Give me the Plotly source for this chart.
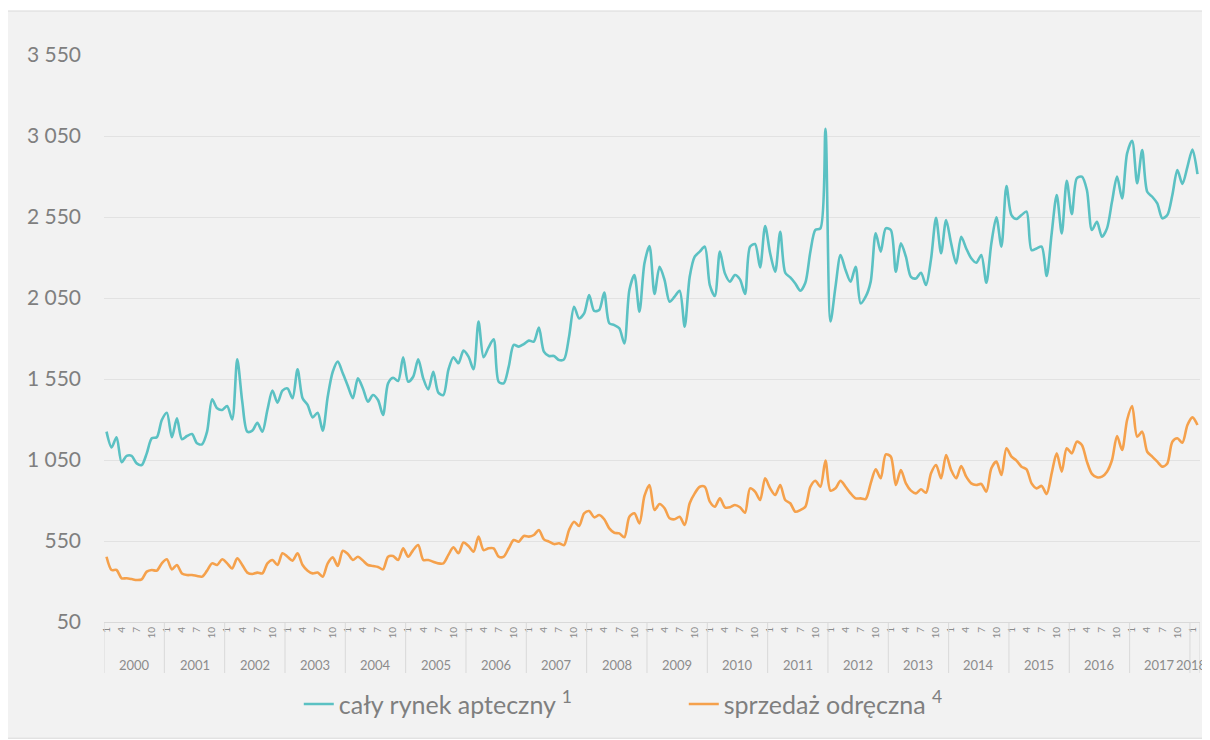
import plotly.graph_objects as go

# ---------------- data ----------------
years = list(range(2000, 2019))
months_in_year = [12] * 18 + [2]

caly_rynek = [
    1225, 1128, 1190, 1036, 1075, 1075, 1029, 1019, 1091, 1184, 1190, 1297,
    1342, 1190, 1307, 1178, 1198, 1210, 1153, 1147, 1225, 1424, 1369, 1359,
    1383, 1301, 1671, 1410, 1225, 1231, 1280, 1225, 1359, 1478, 1404, 1478,
    1492, 1431, 1610, 1431, 1390, 1313, 1342, 1231, 1441, 1595, 1657, 1585,
    1507, 1431, 1554, 1492, 1410, 1451, 1420, 1328, 1523, 1558, 1538, 1684,
    1533, 1564, 1671, 1554, 1486, 1595, 1466, 1451, 1606, 1684, 1647, 1725,
    1688, 1610, 1904, 1684, 1745, 1795, 1533, 1523, 1626, 1760, 1750, 1766,
    1787, 1781, 1867, 1719, 1692, 1692, 1667, 1671, 1811, 1996, 1924, 1955,
    2068, 1970, 1976, 2083, 1894, 1883, 1863, 1770, 2099, 2192, 1966, 2264,
    2370, 2075, 2243, 2161, 2027, 2058, 2095, 1873, 2181, 2305, 2336, 2367,
    2130, 2062, 2336, 2202, 2151, 2192, 2165, 2075, 2367, 2383, 2239, 2494,
    2326, 2212, 2459, 2206, 2177, 2140, 2095, 2144, 2336, 2470, 2480, 3095,
    1905, 2120, 2315, 2223, 2151, 2243, 2017, 2058, 2151, 2449, 2336, 2480,
    2470, 2212, 2387, 2305, 2181, 2171, 2206, 2130, 2290, 2545, 2326, 2531,
    2387, 2264, 2428, 2356, 2295, 2268, 2315, 2144, 2387, 2548, 2367, 2741,
    2562, 2538, 2562, 2583, 2346, 2356, 2367, 2186, 2449, 2686, 2449, 2774,
    2568, 2789, 2799, 2717, 2470, 2521, 2428, 2480, 2645, 2799, 2665, 2943,
    3021, 2758, 2963, 2706, 2675, 2634, 2542, 2562, 2686, 2840, 2754, 2860,
    2967, 2815,
]

sprzedaz_odreczna = [
    453, 371, 371, 320, 320, 315, 309, 313, 361, 371, 367, 412,
    437, 375, 402, 350, 340, 340, 334, 330, 367, 412, 402, 437,
    412, 381, 443, 402, 355, 346, 355, 350, 412, 433, 402, 474,
    453, 429, 474, 402, 367, 350, 355, 330, 412, 449, 396, 490,
    470, 433, 453, 429, 402, 396, 390, 375, 453, 457, 433, 505,
    453, 494, 525, 433, 433, 422, 412, 412, 464, 511, 474, 540,
    519, 484, 577, 494, 505, 505, 453, 453, 505, 556, 546, 581,
    577, 587, 618, 560, 546, 531, 536, 525, 618, 669, 643, 721,
    735, 696, 710, 684, 628, 601, 597, 573, 700, 721, 659, 828,
    896, 741, 778, 752, 690, 684, 700, 649, 783, 844, 885, 885,
    793, 762, 813, 758, 758, 772, 758, 725, 875, 855, 803, 937,
    875, 834, 896, 803, 783, 731, 741, 762, 885, 922, 885, 1046,
    861, 875, 922, 885, 844, 813, 813, 809, 906, 992, 937, 1085,
    1071, 896, 988, 906, 861, 844, 869, 848, 968, 1019, 937, 1081,
    988, 937, 1013, 947, 906, 896, 902, 855, 999, 1040, 957, 1122,
    1071, 1046, 1009, 992, 906, 875, 890, 840, 968, 1091, 978, 1122,
    1091, 1163, 1143, 1040, 964, 943, 947, 978, 1050, 1198, 1112, 1297,
    1383, 1194, 1225, 1101, 1071, 1040, 1009, 1029, 1163, 1184, 1157, 1266,
    1313, 1266,
]

series_names = ["cały rynek apteczny <sup>1</sup>", "sprzedaż odręczna <sup>4</sup>"]
y_ticks = [50, 550, 1050, 1550, 2050, 2550, 3050, 3550]
y_tick_labels = ["50", "550", "1 050", "1 550", "2 050", "2 550", "3 050", "3 550"]
month_tick_labels = [1, 4, 7, 10]

# ---------------- derived ----------------
month_of = []
year_start = []
for yr, nm in zip(years, months_in_year):
    year_start.append(len(month_of))
    month_of.extend(range(1, nm + 1))
n = len(month_of)
x = list(range(n))

tickvals = [i for i, m in enumerate(month_of) if m in month_tick_labels]
ticktext = [str(month_of[i]) for i in tickvals]

TEAL = "#5BC1C3"
ORANGE = "#F5A14C"
GREY = "#7F7F7F"
FONT = "Lato"

fig = go.Figure()
fig.add_trace(go.Scatter(x=x, y=caly_rynek, mode="lines", name=series_names[0],
                         line=dict(color=TEAL, width=2.6, shape="spline", smoothing=0.8)))
fig.add_trace(go.Scatter(x=x, y=sprzedaz_odreczna, mode="lines", name=series_names[1],
                         line=dict(color=ORANGE, width=2.6, shape="spline", smoothing=0.8)))

shapes = []
# outer grey panel
shapes.append(dict(type="rect", xref="paper", yref="paper", x0=-0.0885, x1=1.0075,
                   y0=-0.205, y1=1.0776, fillcolor="#F2F2F2",
                   line=dict(color="#D9D9D9", width=1), layer="below"))
# year separators
bounds = year_start + [n]
for b in bounds:
    shapes.append(dict(type="line", xref="x", yref="paper", x0=b - 0.5, x1=b - 0.5,
                       y0=0, y1=-0.09, line=dict(color="#D9D9D9", width=1)))

annotations = []
for k, (yr, s, nm) in enumerate(zip(years, year_start, months_in_year)):
    annotations.append(dict(x=s + (nm - 1) / 2, y=-0.076, xref="x", yref="paper",
                            text=str(yr), showarrow=False,
                            font=dict(family=FONT, size=13, color="#8C8C8C"),
                            xanchor="center", yanchor="middle",
                            xshift=-4 if k == len(years) - 1 else 0))

fig.update_layout(
    width=1202, height=732,
    margin=dict(l=96, r=10, t=47, b=118, autoexpand=False),
    paper_bgcolor="white",
    plot_bgcolor="#F2F2F2",
    font=dict(family=FONT, color=GREY),
    shapes=shapes,
    annotations=annotations,
    showlegend=True,
    legend=dict(orientation="h", x=0.529, xanchor="center", y=-0.145, yanchor="middle",
                font=dict(family=FONT, size=25, color=GREY),
                bgcolor="rgba(0,0,0,0)", entrywidth=340, entrywidthmode="pixels",
                itemwidth=30),
)
fig.update_xaxes(range=[-0.5, n - 0.5], tickmode="array", tickvals=tickvals, ticktext=ticktext,
                 tickangle=-90, tickfont=dict(family=FONT, size=10, color="#8C8C8C"),
                 showgrid=False, zeroline=False, showline=True, linecolor="#D9D9D9",
                 linewidth=1, ticks="", automargin=False)
fig.update_yaxes(range=[50, 3550], tickmode="array", tickvals=y_ticks, ticktext=y_tick_labels,
                 tickfont=dict(family=FONT, size=21, color=GREY), showgrid=True,
                 gridcolor="#E2E2E2", gridwidth=1, zeroline=False, showline=False,
                 ticks="", ticklabelstandoff=22, automargin=False)

fig.write_html("out.html")
